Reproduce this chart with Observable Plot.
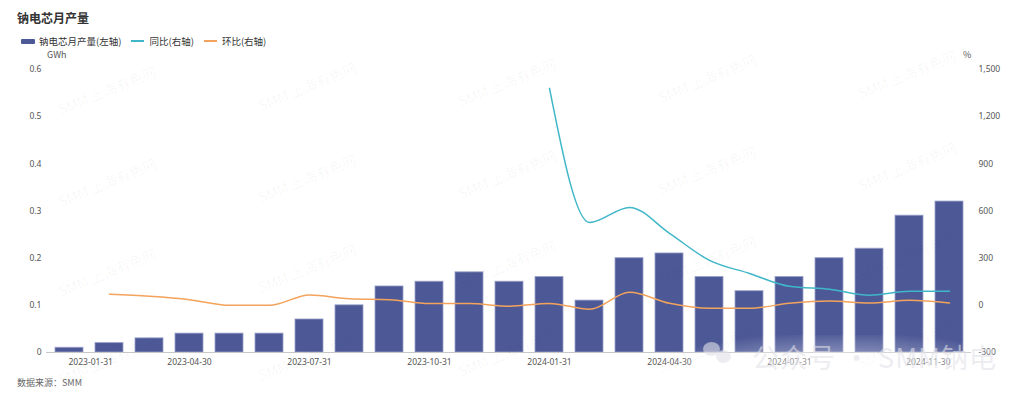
<!DOCTYPE html>
<html>
<head>
<meta charset="utf-8">
<script src="https://cdn.jsdelivr.net/npm/d3@7"></script>
<script src="https://cdn.jsdelivr.net/npm/@observablehq/plot@0.6"></script>
<style>
  html, body { margin: 0; padding: 0; background: #fff; }
  body { width: 1024px; height: 399px; position: relative; overflow: hidden;
         font-family: "Noto Sans CJK SC", "Noto Sans", sans-serif; color: #333; }
  .abs { position: absolute; white-space: nowrap; }
  #title { left: 17px; top: 9px; font-size: 12px; font-weight: bold; color: #333; line-height: 18px; }
  #legend { left: 21px; top: 34px; font-size: 9.5px; color: #333; display: flex; align-items: center; line-height: 14px; }
  .item { display: flex; align-items: center; margin-right: 10px; }
  .sw-bar { width: 14px; height: 5px; border-radius: 1px; margin-right: 4px; }
  .sw-line { width: 13px; height: 2px; margin-right: 5px; }
  #unitL { left: 47px; top: 48px; font-size: 9px; color: #555; }
  #unitR { left: 963px; top: 48px; font-size: 9px; color: #555; }
  #chart { left: 0; top: 50px; }
  #source { left: 17px; top: 376px; font-size: 9px; color: #666; }
  .wm { position: absolute; font-size: 14px; color: rgba(0,0,0,0.04); transform: rotate(-22deg); white-space: nowrap; font-family: "Noto Sans CJK SC", sans-serif; }
  #fog { left: 640px; top: 335px; width: 400px; height: 90px;
         background: radial-gradient(ellipse at 50% 55%, rgba(255,255,255,0.55) 0%, rgba(255,255,255,0.3) 45%, rgba(255,255,255,0) 75%); }
  #wx { left: 752px; top: 337px; font-size: 27px; color: rgba(225,225,232,0.6); font-family: "Noto Sans CJK SC", sans-serif; letter-spacing: 1px; }
  .bub { position: absolute; background: rgba(225,225,232,0.6); border-radius: 50%; }
</style>
</head>
<body>
<div id="title" class="abs">钠电芯月产量</div>
<div id="legend" class="abs"></div>
<div id="unitL" class="abs">GWh</div>
<div id="unitR" class="abs">%</div>
<div id="chart" class="abs"></div>
<div id="source" class="abs">数据来源：SMM</div>
<script>
// ---- Data ----
const months = [
  "2023-01-31","2023-02-28","2023-03-31","2023-04-30","2023-05-31","2023-06-30",
  "2023-07-31","2023-08-31","2023-09-30","2023-10-31","2023-11-30","2023-12-31",
  "2024-01-31","2024-02-29","2024-03-31","2024-04-30","2024-05-31","2024-06-30",
  "2024-07-31","2024-08-31","2024-09-30","2024-10-31","2024-11-30"
];
const output = [0.01,0.02,0.03,0.04,0.04,0.04,0.07,0.10,0.14,0.15,0.17,0.15,
                0.16,0.11,0.20,0.21,0.16,0.13,0.16,0.20,0.22,0.29,0.32];
// 同比 (YoY, %), starts 2024-01
const yoy = [null,null,null,null,null,null,null,null,null,null,null,null,
             1380,527,623,458,286,203,121,102,64,89,89];
// 环比 (MoM, %), starts 2023-02
const mom = [null,70,57,36,0,0,66,42,36,11,11,-6,
             12,-25,83,13,-19,-19,13,27,15,32,15];
const xTicks = ["2023-01-31","2023-04-30","2023-07-31","2023-10-31","2024-01-31","2024-04-30","2024-07-31","2024-11-30"];
const leftTicks = [0,0.1,0.2,0.3,0.4,0.5,0.6];
const rightTicks = [-300,0,300,600,900,1200,1500];
const seriesNames = ["钠电芯月产量(左轴)","同比(右轴)","环比(右轴)"];

const colors = { bar: "#4d5997", yoy: "#40b7c9", mom: "#f3a35b" };

// ---- Legend ----
const legend = document.getElementById("legend");
legend.innerHTML =
  `<div class="item"><div class="sw-bar" style="background:${colors.bar}"></div>${seriesNames[0]}</div>` +
  `<div class="item"><div class="sw-line" style="background:${colors.yoy}"></div>${seriesNames[1]}</div>` +
  `<div class="item"><div class="sw-line" style="background:${colors.mom}"></div>${seriesNames[2]}</div>`;

// ---- Watermarks ----
const wmX = [55, 255, 455, 655, 855];
const wmY = [80, 172, 262, 350];
for (const y of wmY) for (const x of wmX) {
  const d = document.createElement("div");
  d.className = "wm"; d.textContent = "SMM 上海有色网";
  d.style.left = x + "px"; d.style.top = (y - (x - 55) / 200 * 4) + "px";
  document.body.appendChild(d);
}

// ---- Scales: right axis mapped onto left domain ----
const L0 = 0, L1 = 0.6, R0 = -300, R1 = 1500;
const r2l = v => L0 + (v - R0) / (R1 - R0) * (L1 - L0);

const barData = months.map((m, i) => ({ m, v: output[i] }));
const yoyData = months.map((m, i) => ({ m, v: yoy[i] })).filter(d => d.v != null);
const momData = months.map((m, i) => ({ m, v: mom[i] })).filter(d => d.v != null);

const fmtR = v => (v < 0 ? "-" : "") + d3.format(",")(Math.abs(v));

const chart = Plot.plot({
  width: 1024,
  height: 322,
  marginLeft: 46,
  marginRight: 53,
  marginTop: 19,
  marginBottom: 20,
  style: { fontFamily: "'Noto Sans', 'Noto Sans CJK SC', sans-serif", fontSize: "8.5px", color: "#555", background: "transparent" },
  x: { type: "band", domain: months, paddingInner: 0.3, paddingOuter: 0.15, axis: null },
  y: { domain: [L0, L1], axis: null },
  marks: [
    Plot.barY(barData, { x: "m", y: "v", fill: colors.bar, stroke: "#9aa0c8", strokeWidth: 1, strokeOpacity: 0.8 }),
    Plot.ruleY([0], { stroke: "#c8c8c8", strokeWidth: 1 }),
    Plot.line(yoyData, { x: "m", y: d => r2l(d.v), stroke: colors.yoy, strokeWidth: 1.5, curve: "monotone-x" }),
    Plot.line(momData, { x: "m", y: d => r2l(d.v), stroke: colors.mom, strokeWidth: 1.5, curve: "monotone-x" }),
    Plot.axisY(leftTicks, { anchor: "left", label: null, tickSize: 0, tickPadding: 5, tickFormat: d => d === 0 ? "0" : d.toFixed(1), fill: "#555" }),
    Plot.axisY(rightTicks.map(r2l), { anchor: "right", label: null, tickSize: 0, tickPadding: 7, tickFormat: d => fmtR(Math.round(R0 + (d - L0) / (L1 - L0) * (R1 - R0))), fill: "#555" }),
    Plot.axisX([xTicks[0]], { tickSize: 0, tickPadding: 6, textAnchor: "start", dx: -1, fill: "#555", label: null }),
    Plot.axisX(xTicks.slice(1, -1), { tickSize: 0, tickPadding: 6, fill: "#555", label: null }),
    Plot.axisX([xTicks[xTicks.length - 1]], { tickSize: 0, tickPadding: 6, textAnchor: "end", dx: 1, fill: "#555", label: null })
  ]
});
document.getElementById("chart").appendChild(chart);

// ---- bottom-right account watermark ----
const fog = document.createElement("div"); fog.id = "fog"; fog.className = "abs"; document.body.appendChild(fog);
[[703, 342, 17, 14], [716, 350, 15, 13]].forEach(([l, t, w, h]) => {
  const b = document.createElement("div"); b.className = "bub";
  b.style.left = l + "px"; b.style.top = t + "px"; b.style.width = w + "px"; b.style.height = h + "px";
  document.body.appendChild(b);
});
const wx = document.createElement("div"); wx.id = "wx"; wx.className = "abs"; wx.textContent = "公众号 · SMM钠电";
document.body.appendChild(wx);
</script>
</body>
</html>
